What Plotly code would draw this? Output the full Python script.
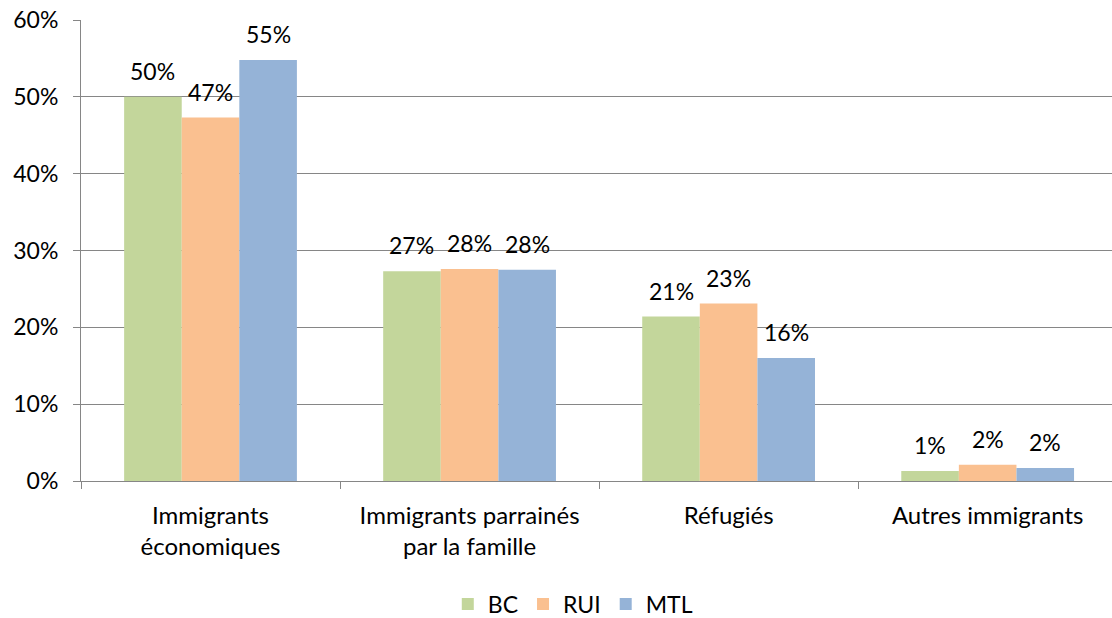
import plotly.graph_objects as go

# Répartition des immigrants par catégorie d'admission
categories = ["Immigrants<br>économiques", "Immigrants parrainés<br>par la famille",
              "Réfugiés", "Autres immigrants"]
series_names = ["BC", "RUI", "MTL"]
bc_values = [50.0, 27.3, 21.4, 1.3]
rui_values = [47.3, 27.6, 23.1, 2.1]
mtl_values = [54.8, 27.5, 16.0, 1.7]
y_ticks = [0, 10, 20, 30, 40, 50, 60]
y_tick_labels = [f"{t}%" for t in y_ticks]

colors = ["#C3D69B", "#FAC090", "#95B3D7"]
font_family = "Lato, 'Open Sans', sans-serif"
num_size = 23
cat_size = 24

W, H = 1112, 618
margin = dict(l=81, r=0, t=20, b=137, autoexpand=False)
x_range = [-0.5, 3.48]
bargap = 0.333

fig = go.Figure()
all_values = [bc_values, rui_values, mtl_values]
for name, vals, col in zip(series_names, all_values, colors):
    fig.add_trace(go.Bar(
        name=name, x=categories, y=vals,
        marker=dict(color=col, line=dict(width=0)),
    ))

# Value labels sitting above each bar
plot_w = W - margin["l"] - margin["r"]
cat_px = plot_w / (x_range[1] - x_range[0])
bar_px = cat_px * (1 - bargap) / len(series_names)
for i, vals in enumerate(all_values):
    for cat, v in zip(categories, vals):
        fig.add_annotation(
            x=cat, y=v, xref="x", yref="y",
            text=f"{v:.0f}%", showarrow=False,
            xanchor="center", yanchor="bottom",
            xshift=(i - 1) * bar_px, yshift=10,
            font=dict(family=font_family, size=num_size, color="#000000"),
        )

fig.update_layout(
    width=W, height=H, margin=margin,
    paper_bgcolor="white", plot_bgcolor="white",
    barmode="group", bargap=bargap, bargroupgap=0,
    font=dict(family=font_family, size=num_size, color="#000000"),
    showlegend=True,
    legend=dict(orientation="h", x=0.477, xanchor="center", y=-0.267,
                yanchor="middle", font=dict(size=num_size),
                itemwidth=30, traceorder="normal"),
    xaxis=dict(range=x_range, showgrid=False, showline=True,
               linecolor="#868686", linewidth=1, ticks="outside",
               tickson="boundaries", ticklen=7, tickcolor="#868686",
               ticklabelstandoff=13, automargin=False,
               tickfont=dict(size=cat_size)),
    yaxis=dict(range=[0, 60], tickmode="array", tickvals=y_ticks,
               ticktext=y_tick_labels,
               showgrid=True, gridcolor="#868686", gridwidth=1,
               showline=True, linecolor="#868686", linewidth=1,
               ticks="outside", ticklen=7, tickcolor="#868686",
               ticklabelstandoff=10, automargin=False,
               zeroline=False, tickfont=dict(size=num_size)),
)

fig.write_html("out.html")
